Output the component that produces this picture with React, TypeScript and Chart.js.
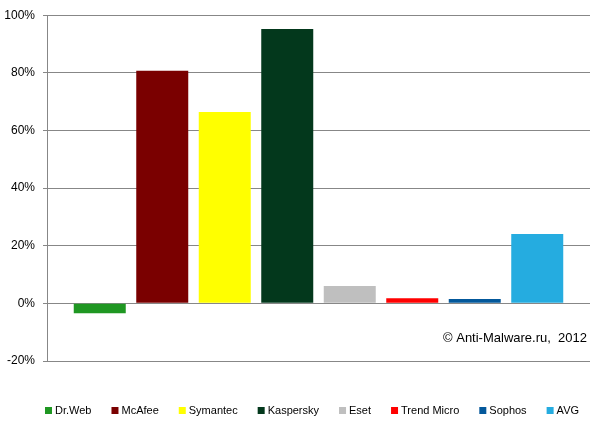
import React, { useEffect, useRef } from "react";
import { Chart, registerables } from "chart.js";

Chart.register(...registerables);

const vendors = ["Dr.Web", "McAfee", "Symantec", "Kaspersky", "Eset", "Trend Micro", "Sophos", "AVG"];
const scores = [-3.4, 80.7, 66.4, 95.2, 6.0, 1.8, 1.5, 24.1];
const colors = ["#1f9722", "#7a0000", "#ffff00", "#03381c", "#bfbfbf", "#ff0000", "#03589b", "#25ace0"];
const yTicks = [-20, 0, 20, 40, 60, 80, 100];
const creditText = "\u00A9 Anti-Malware.ru,  2012";

const FONT = '"Liberation Sans", Arial, sans-serif';

const creditPlugin = {
  id: "credit",
  afterDraw(chart: any) {
    const ctx = chart.ctx;
    ctx.save();
    ctx.font = "13px " + FONT;
    ctx.fillStyle = "#000";
    ctx.textAlign = "right";
    ctx.textBaseline = "middle";
    ctx.fillText(creditText, 587, 338);
    ctx.restore();
  },
};

const legendPlugin = {
  id: "customLegend",
  afterDraw(chart: any) {
    const ctx = chart.ctx;
    ctx.save();
    ctx.font = "11px " + FONT;
    ctx.textBaseline = "middle";
    ctx.textAlign = "left";
    const cy = 410.5;
    let x = 45;
    chart.data.datasets.forEach((ds: any) => {
      ctx.fillStyle = ds.backgroundColor;
      ctx.fillRect(x, cy - 3.5, 7, 7);
      ctx.fillStyle = "#000";
      ctx.fillText(ds.label, x + 10, cy);
      x += 10 + ctx.measureText(ds.label).width + 20;
    });
    ctx.restore();
  },
};

export default function App() {
  const ref = useRef<HTMLCanvasElement | null>(null);
  useEffect(() => {
    if (!ref.current) return;
    const chart = new Chart(ref.current, {
      type: "bar",
      data: {
        labels: [""],
        datasets: vendors.map((v, i) => ({
          label: v,
          data: [scores[i]],
          backgroundColor: colors[i],
          borderWidth: 0,
          categoryPercentage: 0.9208,
          barPercentage: 0.832,
        })),
      },
      options: {
        responsive: false,
        animation: false,
        layout: { padding: { top: 15, right: 14, left: 0, bottom: 71 } },
        plugins: {
          tooltip: { enabled: false },
          legend: { display: false },
        },
        scales: {
          x: { display: false },
          y: {
            min: -20,
            max: 100,
            afterBuildTicks: (s: any) => { s.ticks = yTicks.map((v) => ({ value: v })); },
            afterFit: (s: any) => { s.width = 47; },
            grid: { color: "#878787", tickLength: 4, lineWidth: 1 },
            border: { display: true, color: "#878787" },
            ticks: {
              padding: 8,
              color: "#000",
              font: { family: FONT, size: 12 },
              callback: (v: any) => v + "%",
            },
          },
        },
      },
      plugins: [creditPlugin, legendPlugin],
    });
    return () => chart.destroy();
  }, []);
  return (
    <div style={{ position: "absolute", left: 0, top: 0, width: 604, height: 432, background: "#fff" }}>
      <canvas ref={ref} width={604} height={432} />
    </div>
  );
}
